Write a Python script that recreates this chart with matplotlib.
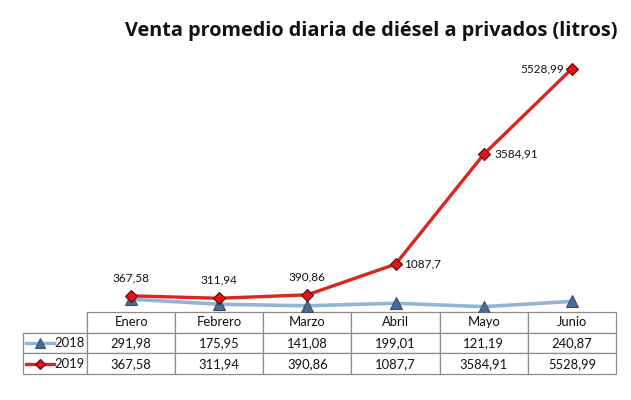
import matplotlib.pyplot as plt

meses = ["Enero", "Febrero", "Marzo", "Abril", "Mayo", "Junio"]
ventas_2018 = [291.98, 175.95, 141.08, 199.01, 121.19, 240.87]
ventas_2019 = [367.58, 311.94, 390.86, 1087.7, 3584.91, 5528.99]
etiquetas_2018 = ["291,98", "175,95", "141,08", "199,01", "121,19", "240,87"]
etiquetas_2019 = ["367,58", "311,94", "390,86", "1087,7", "3584,91", "5528,99"]
titulo = "Venta promedio diaria de diésel a privados (litros)"

plt.rcParams['font.family'] = ['Lato', 'DejaVu Sans']

W, H = 631, 400
fig = plt.figure(figsize=(W / 100, H / 100), dpi=100)
# plot area in pixels: x 87..616, y 48..312 (from top)
x0, x1, ytop, ybot = 87, 616, 48, 312
ax = fig.add_axes([x0 / W, (H - ybot) / H, (x1 - x0) / W, (ybot - ytop) / H])

azul_linea = "#95B3D7"
azul_marca = "#4A6B94"
rojo_linea = "#D9261C"
rojo_marca = "#E0141B"

x = list(range(len(meses)))
ax.plot(x, ventas_2018, color=azul_linea, lw=2.6, marker="^", ms=8,
        mfc=azul_marca, mec="#34506f", mew=0.8, zorder=3)
ax.plot(x, ventas_2019, color=rojo_linea, lw=2.4, marker="D", ms=6.5,
        mfc=rojo_marca, mec="#5a0a0a", mew=0.8, zorder=4)

# data labels for 2019
offsets = [(0, 9, "center", "bottom"), (0, 9, "center", "bottom"), (0, 9, "center", "bottom"),
           (6, 0, "left", "center"), (8, 0, "left", "center"), (-6, 0, "right", "center")]
for xi, yi, lab, (dx, dy, ha, va) in zip(x, ventas_2019, etiquetas_2019, offsets):
    ax.annotate(lab, (xi, yi), xytext=(dx, dy), textcoords="offset points",
                ha=ha, va=va, fontsize=8.5, color="#111111")

ax.set_xlim(-0.5, len(meses) - 0.5)
ax.set_ylim(0, 6000)
ax.axis("off")

# data table under the plot
ax_w = x1 - x0
ax_h = ybot - ytop
lab_w = x0 - 23
col_w = ax_w / len(meses)
cell_text = [["2018"] + etiquetas_2018, ["2019"] + etiquetas_2019]
tabla = ax.table(cellText=cell_text, colLabels=[""] + meses,
                 colWidths=[lab_w] + [col_w] * len(meses),
                 bbox=[-lab_w / ax_w, -62 / ax_h, 1 + lab_w / ax_w, 62 / ax_h],
                 cellLoc="center")
tabla.auto_set_font_size(False)
tabla.set_fontsize(9.4)
for (r, c), cell in tabla.get_celld().items():
    cell.set_edgecolor("#8c8c8c")
    cell.set_linewidth(0.9)
    cell.get_text().set_color("#111111")
    if c == 0:
        cell.get_text().set_ha("right")
        cell._loc = "right"
        cell.PAD = 0.04
tabla[0, 0].visible_edges = "BR"

# legend keys in the row label cells
for fila, (mk, mc, me, lc, ms) in enumerate([
        ("^", azul_marca, "#34506f", azul_linea, 7),
        ("D", rojo_marca, "#5a0a0a", rojo_linea, 5)]):
    yc = -(31 + 21 * fila) / ax_h
    xs = [(26 - x0) / ax_w, (54 - x0) / ax_w]
    ax.plot(xs, [yc, yc], color=lc, lw=2.4, transform=ax.transAxes, clip_on=False)
    ax.plot([(40 - x0) / ax_w], [yc], marker=mk, ms=ms, mfc=mc, mec=me, mew=0.8,
            transform=ax.transAxes, clip_on=False)

fig.text(371 / W, 1 - 31 / H, titulo, ha="center", va="center",
         fontsize=14.3, fontweight="bold", color="#111111", family=["Open Sans", "DejaVu Sans"])

fig.savefig("out.png", dpi=100, facecolor="white")
